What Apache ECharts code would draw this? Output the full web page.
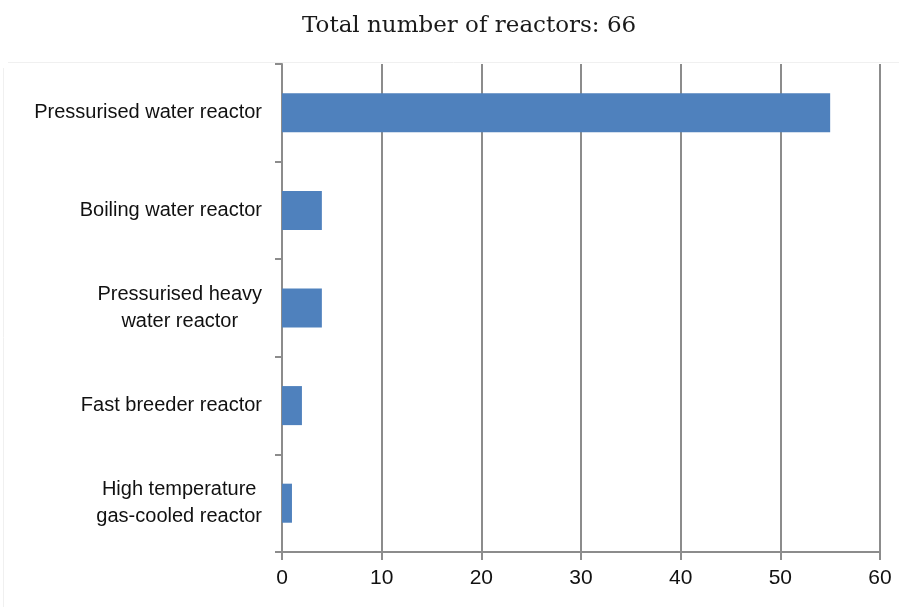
<!DOCTYPE html>
<html>
<head>
<meta charset="utf-8">
<script src="https://cdn.jsdelivr.net/npm/echarts@6/dist/echarts.min.js"></script>
<style>
  html, body { margin: 0; padding: 0; background: #fff; }
  #myChart { width: 899px; height: 607px; }
</style>
</head>
<body>
<div id="myChart"></div>
<script>
// reactor types, top to bottom
const reactorTypes = [
  "Pressurised water reactor",
  "Boiling water reactor",
  "Pressurised heavy\nwater reactor",
  "Fast breeder reactor",
  "High temperature\ngas-cooled reactor"
];
const reactorCounts = [55, 4, 4, 2, 1];
const xTicks = [0, 10, 20, 30, 40, 50, 60];

const labelFont = '"Liberation Sans", Arial, sans-serif';
const axisGray = "#8c8c8c";

let myChart = echarts.init(document.getElementById("myChart"));
myChart.setOption({
  animation: false,
  title: {
    text: "Total number of reactors: 66",
    left: 297,
    top: 10,
    textStyle: {
      fontFamily: '"DejaVu Serif", serif',
      fontWeight: "normal",
      fontSize: 23,
      color: "#1a1a1a"
    }
  },
  // faint frame edges seen in the original (top and left only)
  graphic: [
    {
      type: "line",
      shape: { x1: 8, y1: 62.5, x2: 899, y2: 62.5 },
      style: { stroke: "#f0f0f0", lineWidth: 1 },
      silent: true
    },
    {
      type: "line",
      shape: { x1: 3.5, y1: 68, x2: 3.5, y2: 607 },
      style: { stroke: "#f0f0f0", lineWidth: 1 },
      silent: true
    }
  ],
  grid: { left: 282, right: 19, top: 64, bottom: 55 },
  xAxis: {
    type: "value",
    min: xTicks[0],
    max: xTicks[xTicks.length - 1],
    interval: 10,
    axisLine: { show: true, lineStyle: { color: axisGray, width: 2 } },
    axisTick: { show: true, length: 8, lineStyle: { color: axisGray, width: 2 } },
    splitLine: { show: true, lineStyle: { color: axisGray, width: 2 } },
    axisLabel: {
      margin: 16,
      fontFamily: labelFont,
      fontSize: 21,
      color: "#111"
    }
  },
  yAxis: {
    type: "category",
    data: reactorTypes,
    inverse: true,
    axisLine: { show: true, lineStyle: { color: axisGray, width: 2 } },
    axisTick: { show: true, length: 7, alignWithLabel: false, lineStyle: { color: axisGray, width: 2 } },
    splitLine: { show: false },
    axisLabel: {
      margin: 20,
      fontFamily: labelFont,
      fontSize: 20,
      color: "#111",
      lineHeight: 27,
      formatter: function (v) {
        return v.split("\n").map(s => "{c|" + s + "}").join("\n");
      },
      rich: {
        c: { align: "center", fontFamily: labelFont, fontSize: 20, lineHeight: 27, color: "#111" }
      }
    }
  },
  series: [
    {
      type: "bar",
      data: reactorCounts,
      barWidth: "40%",
      itemStyle: { color: "#4f81bd" }
    }
  ]
});
window.addEventListener("resize", function () {
  myChart.resize();
});
</script>
</body>
</html>
